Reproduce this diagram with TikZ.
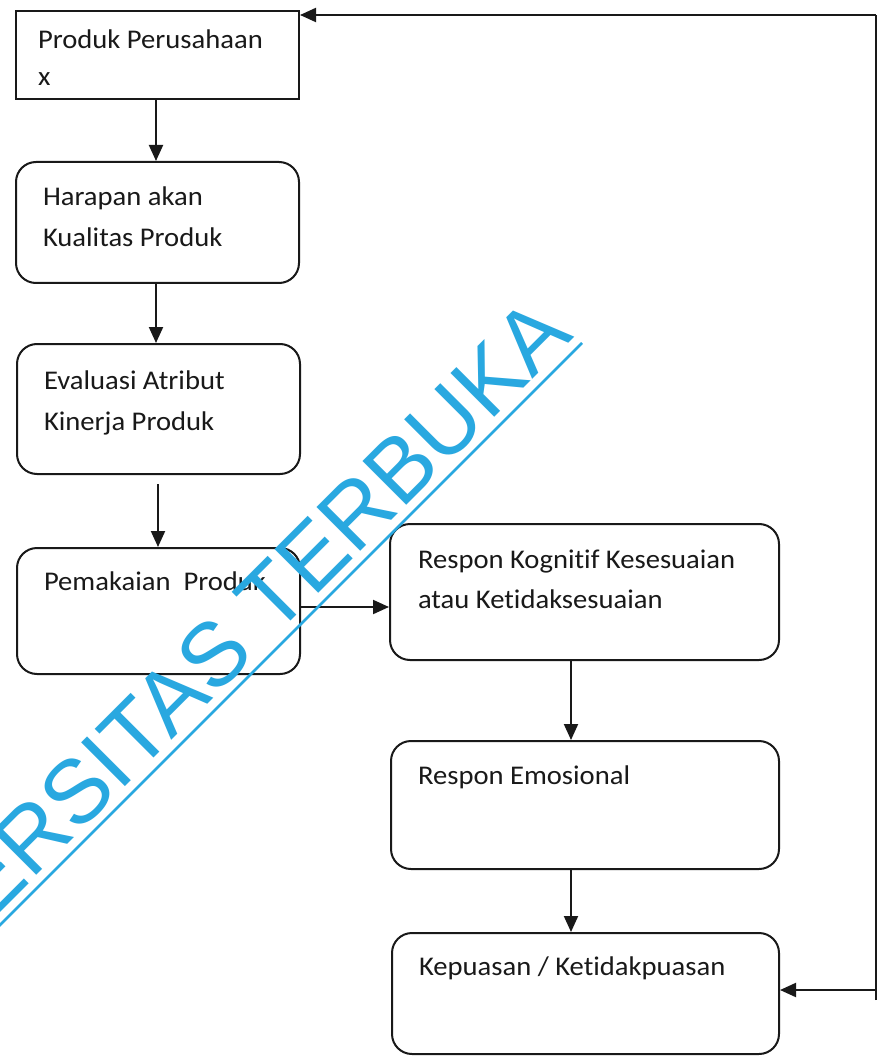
\documentclass[tikz,border=0pt]{standalone}
\usepackage{fontspec}
\setmainfont{Carlito}[FakeStretch=1.06, Ligatures=NoCommon]
\newfontfamily\wmfont{Liberation Sans}
\usetikzlibrary{arrows.meta}
\definecolor{wmblue}{RGB}{41,168,224}
\definecolor{ink}{RGB}{25,25,25}
% #1 height, #2 width, #3 first baseline depth, #4 baselineskip, #5 text
\newcommand{\bxt}[5]{\parbox[t][#1][t]{#2}{\fontsize{27}{#4}\selectfont\raggedright\rule{0pt}{#3}#5}}
\tikzset{
  wbox/.style={draw=ink, line width=2pt, anchor=north west, inner ysep=0pt, inner xsep=27pt, text=ink},
  rbox/.style={wbox, rounded corners=20pt},
  conn/.style={draw=ink, line width=2pt},
  arr/.style={conn, -{Triangle[length=16pt,width=14pt]}},
}
\begin{document}
\begin{tikzpicture}[x=1pt,y=-1pt]
\useasboundingbox (0,0) rectangle (882,1056);
\fill[white] (0,0) rectangle (882,1056);

% boxes
\node[wbox, inner xsep=22pt] (produk) at (15,10)
  {\bxt{88pt}{239pt}{38pt}{37pt}{Produk Perusahaan\\x}};
\node[rbox] (harapan) at (15,161)
  {\bxt{121pt}{229pt}{44pt}{41pt}{Harapan akan\\Kualitas Produk}};
\node[rbox] (evaluasi) at (16,343)
  {\bxt{130pt}{229pt}{45pt}{41pt}{Evaluasi Atribut\\Kinerja Produk}};
\node[rbox] (pemakaian) at (16,547)
  {\bxt{126pt}{229pt}{42pt}{41pt}{Pemakaian~ Produk}};
\node[rbox, inner xsep=28pt] (kognitif) at (389,523)
  {\bxt{136pt}{333pt}{44pt}{40pt}{Respon Kognitif Kesesuaian\\atau Ketidaksesuaian}};
\node[rbox] (emosional) at (390,740)
  {\bxt{128pt}{334pt}{43pt}{40pt}{Respon Emosional}};
\node[rbox] (kepuasan) at (391,932)
  {\bxt{121pt}{333pt}{42pt}{40pt}{Kepuasan / Ketidakpuasan}};

% connectors
\draw[arr] ([xshift=-1.5pt]produk.south) -- ([xshift=-1.5pt]produk.south |- harapan.north);
\draw[arr] ([xshift=-1.5pt]harapan.south) -- ([xshift=-1.5pt]harapan.south |- evaluasi.north);
\draw[arr, shorten <=9pt] ([xshift=-0.5pt]evaluasi.south) coordinate (c1) -- (c1 |- pemakaian.north);
\draw[arr] ([yshift=4pt]pemakaian.east) coordinate (d1) -- (d1 -| kognitif.west);
\draw[arr] ([xshift=-13.5pt]kognitif.south) coordinate (e1) -- (e1 |- emosional.north);
\draw[arr] ([xshift=-14pt]emosional.south) coordinate (f1) -- (f1 |- kepuasan.north);

% feedback loop
\coordinate (fbtop) at (876,15);
\coordinate (fbbot) at (876,1000);
\coordinate (fbmid) at (876,990);
\draw[conn] (fbbot) -- (fbtop);
\draw[arr] (fbtop) -- (fbtop -| produk.east);
\draw[arr] (fbmid) -- (fbmid -| kepuasan.east);

% watermark
\begin{scope}
\clip (0,0) rectangle (882,1056);
\node[anchor=base east, rotate=45, inner sep=0pt, text=wmblue,
      font=\wmfont\fontsize{90}{90}\selectfont] (wm) at (575,337) {UNIVERSITAS TERBUKA};
\draw[wmblue, line width=2.6pt] (582,343) -- (-130,1055);
\end{scope}
\end{tikzpicture}
\end{document}
